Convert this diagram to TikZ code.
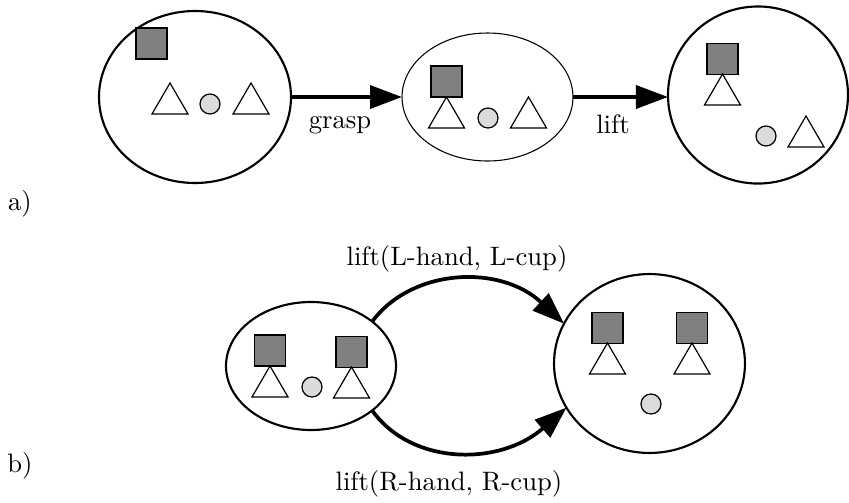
\documentclass[tikz,border=0pt]{standalone}
\usetikzlibrary{arrows.meta,shapes.geometric}

\tikzset{
  % one unit = one pixel of a 849 x 502 canvas, y pointing down
  world/.style={ellipse, draw, fill=white, inner sep=0pt, outer sep=0pt},
  bold world/.style={world, line width=0.8pt},
  thin world/.style={world, line width=0.4pt},
  act/.style={line width=1.4pt, -{Triangle[length=12pt,width=8.6pt]}},
  lbl/.style={anchor=base, inner sep=0pt},
  pics/cube/.style={code={
    \draw[line width=0.45pt, fill=black!50] (-15.5,-15.5) rectangle (15.5,15.5);}},
  pics/cone/.style={code={
    \draw[line width=0.45pt, fill=white, line join=miter] (0,0) -- (-18,31) -- (18,31) -- cycle;}},
  pics/ball/.style={code={
    \draw[line width=0.45pt, fill=black!14] (0,0) circle[radius=10];}},
}

\begin{document}
\begin{tikzpicture}[x=0.375pt, y=-0.375pt]
\useasboundingbox (0,0) rectangle (849,502);

% ---------- a) grasp then lift ----------
\node[bold world, minimum width=72pt, minimum height=64.5pt] (a1) at (195,97) {};
\node[thin world, minimum width=64.1pt, minimum height=48pt] (a2) at (487.5,97) {};
\node[bold world, minimum width=67.5pt, minimum height=66.4pt] (a3) at (758,95) {};

\pic at (151.5,43.5) {cube};
\pic at (170,83) {cone};
\pic at (210,104) {ball};
\pic at (251,83) {cone};

\pic at (446.5,81.5) {cube};
\pic at (446.5,97) {cone};
\pic at (488,118) {ball};
\pic at (528.5,97) {cone};

\pic at (722.5,59) {cube};
\pic at (722.5,74) {cone};
\pic at (766,136) {ball};
\pic at (806,116) {cone};

\draw[act] (a1.east) -- (a2.west);
\draw[act] (a2.east) -- (a2.east -| a3.west);
\node[lbl] (grasp) at (340,128) {grasp};
\node[lbl] (liftA) at (613,133) {lift};
\node[lbl] (tagA) at (20,210) {a)};

% ---------- b) two hands, two cups ----------
\node[bold world, minimum width=63.75pt, minimum height=48pt] (b1) at (311,366) {};
\node[bold world, minimum width=71.6pt, minimum height=67.1pt] (b2) at (649.5,363.5) {};

\pic at (270,350.5) {cube};
\pic at (270,366) {cone};
\pic at (312,387) {ball};
\pic at (351.5,352) {cube};
\pic at (351.5,367) {cone};

\pic at (607.5,328) {cube};
\pic at (607.5,343) {cone};
\pic at (692,328) {cube};
\pic at (692,343) {cone};
\pic at (651,404) {ball};

\draw[act] (b1.36) .. controls (412,268) and (500,264) .. (b2.155);
\draw[act] (b1.-36) .. controls (412,466) and (500,466) .. (b2.208);
\node[lbl] (liftL) at (457,265) {lift(L-hand, L-cup)};
\node[lbl] (liftR) at (449,490) {lift(R-hand, R-cup)};
\node[lbl] (tagB) at (20,472) {b)};
\end{tikzpicture}
\end{document}
